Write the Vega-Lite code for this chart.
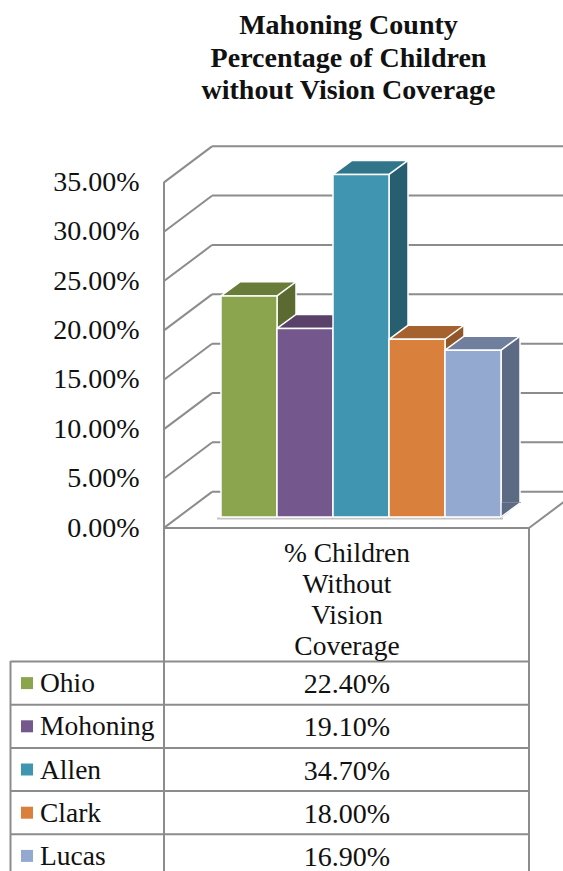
{
"$schema":"https://vega.github.io/schema/vega-lite/v6.json",
"width":563,"height":871,"autosize":{"type":"none"},"padding":0,"background":"white",
"title":{"text":["Mahoning County","Percentage of Children","without Vision Coverage"],"font":"Liberation Serif","fontWeight":"bold","fontSize":28,"lineHeight":32.5,"color":"#111111","anchor":"middle","dx":67,"dy":109},
"datasets":{
"rows":[{"region":"Ohio","share":0.224},{"region":"Mohoning","share":0.191},{"region":"Allen","share":0.347},{"region":"Clark","share":0.18},{"region":"Lucas","share":0.169}],
"ticks":[{"tick":0},{"tick":0.05},{"tick":0.1},{"tick":0.15},{"tick":0.2},{"tick":0.25},{"tick":0.3},{"tick":0.35}]
},
"layer":[
{"layer":[
{"data":{"name":"ticks"},"mark":{"type":"rule","stroke":"#8c8c8c","strokeWidth":2,"yOffset":-25.3},
 "encoding":{"x":{"value":212},"x2":{"value":563},"y":{"field":"tick","type":"quantitative","scale":{"domain":[0,0.35],"range":[517,171.5],"nice":false},
 "axis":{"title":null,"orient":"left","offset":-139,"values":[0,0.05,0.1,0.15,0.2,0.25,0.3,0.35],"format":".2%","domain":false,"ticks":false,"grid":false,"labelPadding":0,"labelOffset":11,"labelFont":"Liberation Serif","labelFontSize":28,"labelColor":"#111111"}}}},
{"data":{"name":"ticks"},"mark":{"type":"point","shape":"M-1,.75L1,-.75","size":2304,"filled":false,"stroke":"#8c8c8c","strokeWidth":2,"opacity":1,"yOffset":-7.15},
 "encoding":{"x":{"value":188},"y":{"field":"tick","type":"quantitative"}}},
{"data":{"values":[{"edge":"shadow"}]},"mark":{"type":"rule","stroke":"#c4c4c4","strokeWidth":2,"yOffset":1.5},
 "encoding":{"x":{"value":217},"x2":{"value":503},"y":{"datum":0}}},
{"data":{"name":"rows"},"mark":{"type":"bar","width":19,"xOffset":37.5,"yOffset":-14,"y2Offset":-14,"stroke":"white","strokeWidth":1.5},
 "encoding":{"x":{"field":"region","type":"nominal","axis":null,"scale":{"type":"band","domain":["Ohio","Mohoning","Allen","Clark","Lucas"],"range":[221,501],"paddingInner":0,"paddingOuter":0}},
 "y":{"field":"share","type":"quantitative"},"y2":{"datum":0},
 "fill":{"field":"region","type":"nominal","legend":null,"scale":{"domain":["Ohio","Mohoning","Allen","Clark","Lucas"],"range":["#5a6a31","#4d3a60","#275f70","#8f562a","#5d6a83"]}}}},
{"data":{"name":"rows"},"mark":{"type":"point","shape":"M-1,.737L-1,-.737L.9,-.737Z","size":361,"filled":true,"opacity":1,"strokeWidth":1.5,"xOffset":37.5,"yOffset":-7},
 "encoding":{"x":{"field":"region","type":"nominal","axis":null},"y":{"datum":0},
 "fill":{"field":"region","type":"nominal","legend":null,"scale":{"domain":["Ohio","Mohoning","Allen","Clark","Lucas"],"range":["#5a6a31","#4d3a60","#275f70","#8f562a","#5d6a83"]}},
 "stroke":{"field":"region","type":"nominal","legend":null,"scale":{"domain":["Ohio","Mohoning","Allen","Clark","Lucas"],"range":["#5a6a31","#4d3a60","#275f70","#8f562a","#5d6a83"]}}}},
{"data":{"name":"rows"},"mark":{"type":"point","shape":"M-1,.737L1,-.737","size":361,"filled":false,"stroke":"white","strokeWidth":1.5,"opacity":1,"xOffset":37.5,"yOffset":-7},
 "encoding":{"x":{"field":"region","type":"nominal","axis":null},"y":{"datum":0}}},
{"data":{"name":"rows"},"mark":{"type":"point","shape":"M-1,.187L-.493,-.187L1,-.187L.493,.187Z","size":5625,"filled":true,"opacity":1,"stroke":"white","strokeWidth":1.5,"xOffset":9.5,"yOffset":-7},
 "encoding":{"x":{"field":"region","type":"nominal","axis":null},"y":{"field":"share","type":"quantitative"},
 "fill":{"field":"region","type":"nominal","legend":null,"scale":{"domain":["Ohio","Mohoning","Allen","Clark","Lucas"],"range":["#6a7c39","#5a4169","#30758a","#a6622e","#707f9e"]}}}},
{"data":{"name":"rows"},"mark":{"type":"bar","stroke":"white","strokeWidth":1.5},
 "encoding":{"x":{"field":"region","type":"nominal","axis":null},"y":{"field":"share","type":"quantitative"},"y2":{"datum":0},
 "fill":{"field":"region","type":"nominal","legend":null,"scale":{"domain":["Ohio","Mohoning","Allen","Clark","Lucas"],"range":["#8ba54e","#73578d","#4096b0","#da803d","#94a9d0"]}}}}
],"resolve":{"scale":{"fill":"independent"}}},
{"layer":[
{"data":{"name":"rows"},"mark":{"type":"rule","stroke":"#8c8c8c","strokeWidth":2},
 "encoding":{"x":{"value":10.5},"x2":{"value":529},"y":{"field":"region","type":"nominal","bandPosition":0,"axis":null,"scale":{"type":"band","domain":["Ohio","Mohoning","Allen","Clark","Lucas"],"range":[661.5,877.5],"paddingInner":0,"paddingOuter":0}}}},
{"data":{"values":[{"edge":"left"}]},"mark":{"type":"rule","stroke":"#8c8c8c","strokeWidth":2},"encoding":{"x":{"value":10.5},"y":{"value":661},"y2":{"value":871}}},
{"data":{"values":[{"edge":"axis"}]},"mark":{"type":"rule","stroke":"#8c8c8c","strokeWidth":2},"encoding":{"x":{"value":164},"y":{"value":182},"y2":{"value":871}}},
{"data":{"values":[{"edge":"right"}]},"mark":{"type":"rule","stroke":"#8c8c8c","strokeWidth":2},"encoding":{"x":{"value":529},"y":{"value":528},"y2":{"value":871}}},
{"data":{"values":[{"edge":"floor"}]},"mark":{"type":"rule","stroke":"#8c8c8c","strokeWidth":2},"encoding":{"x":{"value":164},"x2":{"value":529},"y":{"value":528}}},
{"data":{"values":[{"edge":"floor side"}]},"mark":{"type":"point","shape":"M-1,.75L1,-.75","size":2304,"filled":false,"stroke":"#8c8c8c","strokeWidth":2,"opacity":1},"encoding":{"x":{"value":553},"y":{"value":510}}},
{"data":{"values":[{"head":"% Children"}]},"mark":{"type":"text","text":["% Children","Without","Vision","Coverage"],"font":"Liberation Serif","fontSize":27.5,"lineHeight":31,"color":"#111111","align":"center","baseline":"middle"},"encoding":{"x":{"value":347},"y":{"value":554}}},
{"data":{"name":"rows"},"mark":{"type":"point","shape":"square","size":144,"filled":true,"opacity":1},
 "encoding":{"x":{"value":27},"y":{"field":"region","type":"nominal"},
 "fill":{"field":"region","type":"nominal","legend":null,"scale":{"domain":["Ohio","Mohoning","Allen","Clark","Lucas"],"range":["#8ba54e","#73578d","#4096b0","#da803d","#94a9d0"]}}}},
{"data":{"name":"rows"},"mark":{"type":"text","font":"Liberation Serif","fontSize":27.5,"color":"#111111","align":"left","baseline":"middle","dy":1},
 "encoding":{"x":{"value":40},"y":{"field":"region","type":"nominal"},"text":{"field":"region","type":"nominal"}}},
{"data":{"name":"rows"},"mark":{"type":"text","font":"Liberation Serif","fontSize":28,"color":"#111111","align":"center","baseline":"middle","dy":2},
 "encoding":{"x":{"value":347},"y":{"field":"region","type":"nominal"},"text":{"field":"share","type":"quantitative","format":".2%"}}}
]}
],
"resolve":{"scale":{"x":"independent","y":"independent","fill":"independent"},"axis":{"y":"independent"}},
"config":{"view":{"stroke":null}}
}
